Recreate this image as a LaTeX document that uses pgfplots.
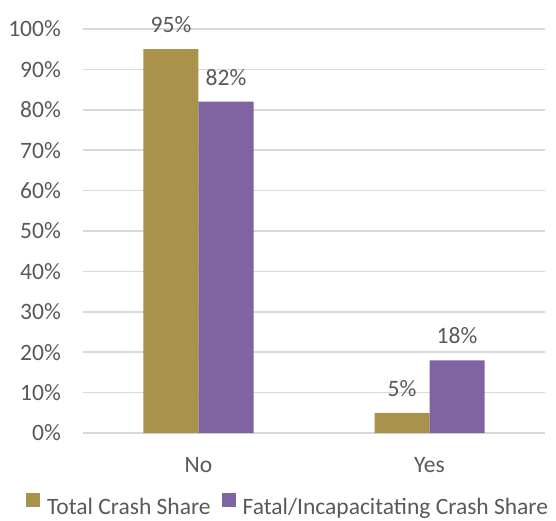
\documentclass[border=0pt]{standalone}
\usepackage{pgfplots}
\pgfplotsset{compat=1.18}
\usepackage{fontspec}
\setmainfont{Carlito}
\definecolor{gold}{HTML}{A9924B}
\definecolor{purp}{HTML}{8064A2}
\definecolor{gridc}{HTML}{D9D9D9}
\definecolor{txt}{HTML}{595959}
\begin{document}
\begin{tikzpicture}
\path[use as bounding box] (-83bp,-88bp) rectangle (473bp,433bp);
\begin{axis}[
  at={(0,0)}, anchor=south west,
  scale only axis, width=462bp, height=404bp,
  ybar=0pt, bar width=55bp,
  xmin=-0.5, xmax=1.5, ymin=0, ymax=100,
  xtick={0,1}, xticklabels={No,Yes},
  ytick={0,10,...,100},
  yticklabel={\pgfmathprintnumber{\tick}\%},
  /pgf/number format/assume math mode=true,
  axis line style={draw=none},
  tick style={draw=none},
  xmajorgrids=false,
  major tick length=0pt,
  ymajorgrids, grid style={draw=gridc, line width=1.5bp},
  font=\fontsize{23.5bp}{28bp}\selectfont,
  tick label style={text=txt},
  yticklabel style={inner sep=0pt, xshift=-22bp},
  xticklabel style={inner sep=0pt, yshift=-24bp},
  nodes near coords={\pgfmathprintnumber{\pgfplotspointmeta}\%},
  nodes near coords style={text=txt, inner sep=0pt, yshift=16bp, font=\fontsize{23.5bp}{28bp}\selectfont},
  legend style={at={(0.444,-0.18)}, anchor=center, draw=none, fill=none, inner sep=0pt,
    legend columns=2, font=\fontsize{23.5bp}{28bp}\selectfont, text=txt,
    /tikz/every odd column/.style={column sep=5bp},
    /tikz/every even column/.style={column sep=9bp}},
  legend image code/.code={\fill[#1] (0bp,0bp) rectangle (14bp,14bp);},
]
\addplot[fill=gold, draw=none] coordinates {(0,95) (1,5)};
\addplot[fill=purp, draw=none] coordinates {(0,82) (1,18)};
\legend{Total Crash Share, Fatal/Incapacitating Crash Share}
\end{axis}
\end{tikzpicture}
\end{document}
